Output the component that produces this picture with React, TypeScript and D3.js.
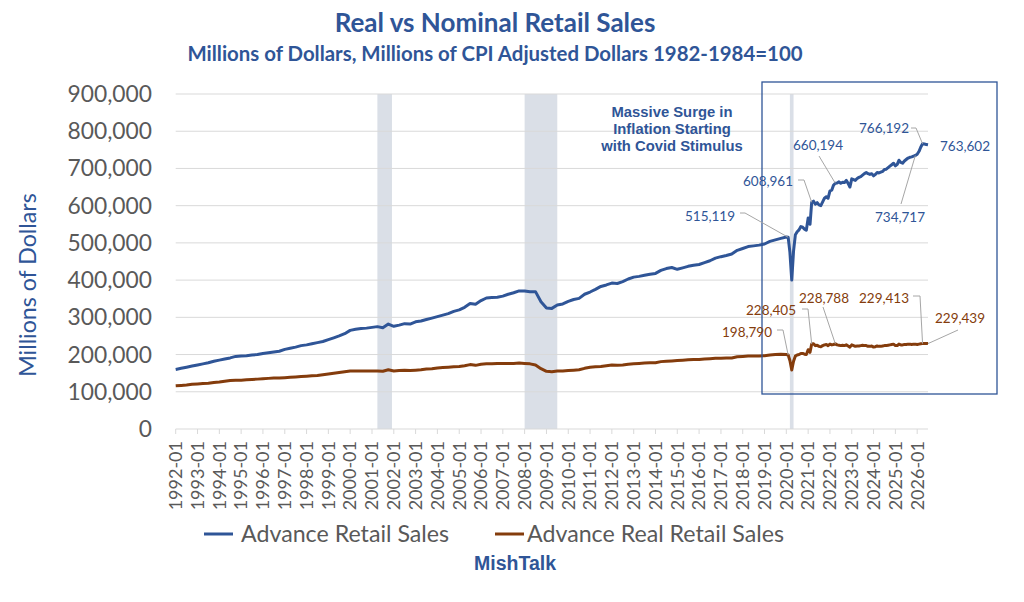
import { useEffect, useRef } from "react"
import * as d3 from "d3"

// quarterly readings (Jan, Apr, Jul, Oct), thousands of millions of dollars
const quarterYears = d3.range(1992, 2020)
const nominalQuarterly = [
  [160, 163, 166, 169], [172, 175, 178, 182], [185, 188, 191, 195], [196, 197, 199, 200],
  [203, 205, 207, 209], [214, 217, 220, 224], [226, 229, 232, 235], [240, 245, 250, 256],
  [265, 268, 270, 271], [273, 275, 272, 282], [276, 279, 283, 282], [288, 290, 294, 298],
  [302, 306, 310, 316], [320, 327, 337, 335], [345, 352, 353, 354], [357, 362, 366, 371],
  [371, 369, 369, 342], [325, 324, 333, 336], [343, 348, 351, 362], [368, 375, 383, 387],
  [392, 391, 396, 403], [408, 410, 413, 416], [418, 426, 431, 434], [429, 433, 437, 440],
  [442, 447, 452, 459], [463, 466, 470, 480], [485, 490, 492, 494], [497, 504, 508, 512],
]
const realQuarterly = [
  [116, 117, 118, 120], [121, 122, 123, 125], [126, 128, 130, 131], [131, 132, 133, 134],
  [135, 136, 137, 137], [138, 139, 140, 141], [142, 143, 144, 146], [148, 150, 152, 154],
  [156, 156, 156, 156], [156, 156, 155, 159], [156, 157, 158, 157], [158, 159, 161, 162],
  [164, 165, 166, 167], [168, 170, 173, 171], [174, 175, 175, 176], [176, 176, 176, 177],
  [176, 175, 172, 162], [155, 154, 156, 156], [157, 158, 159, 163], [166, 167, 168, 170],
  [172, 171, 172, 174], [175, 176, 177, 178], [178, 181, 182, 183], [184, 185, 186, 187],
  [187, 188, 189, 190], [190, 191, 191, 194], [195, 196, 196, 196], [197, 199, 200, 201],
]

// monthly readings from 2020-01
const monthlyStart = "2020-01"
const nominalMonthly = [
  516, 515.1, 475, 400, 478, 522, 530, 535, 544, 542, 537, 534,
  567, 550, 609, 612, 604, 608, 602, 600, 610, 620, 624, 620,
  640, 642, 655, 660.2, 661, 664, 660, 663, 662, 668, 660, 650,
  672, 670, 668, 673, 676, 678, 682, 686, 689, 686, 684, 686,
  680, 684, 689, 688, 690, 692, 697, 698, 702, 706, 710, 714,
  707, 711, 722, 716, 714, 720, 724, 728, 730, 731, 733, 734.7,
  738, 746, 757, 766.2, 765.5, 764.5, 763.6,
]
const realMonthly = [
  200, 198.8, 184, 158.5, 182, 196, 199, 200, 203, 203, 201, 200,
  213, 206, 228.4, 229, 224, 225, 222, 221, 224, 226, 227, 224,
  228, 226, 227, 228.8, 226, 225, 224, 225, 224, 226, 223, 220,
  226, 224, 222, 223, 223, 224, 225, 224, 224, 222, 222, 223,
  220, 221, 223, 222, 222, 223, 224, 224, 225, 226, 227, 228,
  224, 224, 228, 226, 226, 227, 227, 228, 228, 227, 228, 228,
  227, 228, 229, 229.4, 230, 230, 229.4,
]

const yTicks = [0, 100, 200, 300, 400, 500, 600, 700, 800, 900]
const xTickYears = d3.range(1992, 2027)
const recessions = [
  ["2001-04", "2001-12"],
  ["2008-01", "2009-07"],
  ["2020-03", "2020-05"],
]

const nominalLabels = [
  { date: "2020-02", text: "515,119", tx: 710, ty: 216, leader: [[740, 213], [745, 213]] },
  { date: "2021-03", text: "608,961", tx: 768, ty: 181, leader: [[798, 180], [804, 180]] },
  { date: "2022-04", text: "660,194", tx: 818, ty: 145, leader: [[819, 156]] },
  { date: "2026-04", text: "766,192", tx: 884, ty: 128, leader: [[911, 128], [916, 128]] },
  { date: "2026-07", text: "763,602", tx: 965, ty: 146, leader: [] },
  { date: "2025-12", text: "734,717", tx: 900, ty: 217, leader: [[901, 204]] },
]
const realLabels = [
  { date: "2020-02", text: "198,790", tx: 747, ty: 332, leader: [[777, 330], [783, 330]] },
  { date: "2021-03", text: "228,405", tx: 771, ty: 310, leader: [[802, 309], [808, 309]] },
  { date: "2022-04", text: "228,788", tx: 824, ty: 298, leader: [[823, 307]] },
  { date: "2026-04", text: "229,413", tx: 884, ty: 298, leader: [[913, 296], [920, 296]] },
  { date: "2026-07", text: "229,439", tx: 960, ty: 318, leader: [[958, 330]] },
]

const blue = "#2f5597"
const brown = "#843c0c"
const gray = "#595959"
const font = "Lato, 'Open Sans', sans-serif"
const arial = "'Liberation Sans', Arial, sans-serif"

export default function App() {
  const svgRef = useRef<SVGSVGElement>(null)

  useEffect(() => {
    if (!svgRef.current) return
    const parse = d3.timeParse("%Y-%m")

    // build series
    const series: { date: Date; nominal: number; real: number }[] = []
    quarterYears.forEach((yr, i) => {
      ;[0, 3, 6, 9].forEach((mo, q) => {
        series.push({ date: new Date(yr, mo, 1), nominal: nominalQuarterly[i][q], real: realQuarterly[i][q] })
      })
    })
    const start = parse(monthlyStart) as Date
    nominalMonthly.forEach((v, i) => {
      series.push({ date: d3.timeMonth.offset(start, i), nominal: v, real: realMonthly[i] })
    })

    const svg = d3.select(svgRef.current)
    svg.selectAll("*").remove()

    const x = d3
      .scaleTime()
      .domain([parse("1992-01") as Date, parse("2026-07") as Date])
      .range([175.7, 928])
    const y = d3.scaleLinear().domain([0, 900]).range([429, 94])

    // title
    svg
      .append("text")
      .attr("x", 495)
      .attr("y", 32)
      .attr("text-anchor", "middle")
      .style("font-family", font)
      .style("font-weight", "bold")
      .style("font-size", "26px")
      .style("fill", blue)
      .text("Real vs Nominal Retail Sales")
    svg
      .append("text")
      .attr("x", 495)
      .attr("y", 61)
      .attr("text-anchor", "middle")
      .style("font-family", font)
      .style("font-weight", "bold")
      .style("font-size", "20.4px")
      .style("fill", blue)
      .text("Millions of Dollars, Millions of CPI Adjusted Dollars 1982-1984=100")

    // recession bands
    svg
      .selectAll(".band")
      .data(recessions)
      .enter()
      .append("rect")
      .attr("x", (d) => x(parse(d[0]) as Date))
      .attr("width", (d) => x(parse(d[1]) as Date) - x(parse(d[0]) as Date))
      .attr("y", y(900))
      .attr("height", y(0) - y(900))
      .attr("fill", "#dadfe7")

    // gridlines
    svg
      .selectAll(".grid")
      .data(yTicks)
      .enter()
      .append("line")
      .attr("x1", x.range()[0])
      .attr("x2", x.range()[1])
      .attr("y1", (d) => y(d))
      .attr("y2", (d) => y(d))
      .attr("stroke", "#d9d9d9")
      .attr("stroke-width", 1)

    // y tick labels
    svg
      .selectAll(".ylab")
      .data(yTicks)
      .enter()
      .append("text")
      .attr("x", 152)
      .attr("y", (d) => y(d))
      .attr("dy", "0.35em")
      .attr("text-anchor", "end")
      .style("font-family", font)
      .style("font-size", "22.8px")
      .style("fill", gray)
      .text((d) => d3.format(",")(d * 1000))

    // x ticks + labels
    const tickDates = xTickYears.map((yr) => new Date(yr, 0, 1))
    svg
      .selectAll(".xtick")
      .data(tickDates)
      .enter()
      .append("line")
      .attr("x1", (d) => x(d))
      .attr("x2", (d) => x(d))
      .attr("y1", y(0))
      .attr("y2", y(0) + 5)
      .attr("stroke", "#d9d9d9")
    svg
      .selectAll(".xlab")
      .data(tickDates)
      .enter()
      .append("text")
      .attr("transform", (d) => `translate(${x(d)},${y(0) + 12})rotate(-90)`)
      .attr("dy", "0.35em")
      .attr("text-anchor", "end")
      .style("font-family", font)
      .style("font-size", "18px")
      .style("fill", gray)
      .text((d) => d3.timeFormat("%Y-%m")(d))

    // y axis title
    svg
      .append("text")
      .attr("transform", `translate(28,${285})rotate(-90)`)
      .attr("dy", "0.35em")
      .attr("text-anchor", "middle")
      .style("font-family", font)
      .style("font-size", "23.2px")
      .style("fill", blue)
      .text("Millions of Dollars")

    // lines
    const lineNominal = d3
      .line<any>()
      .x((d) => x(d.date))
      .y((d) => y(d.nominal))
    const lineReal = d3
      .line<any>()
      .x((d) => x(d.date))
      .y((d) => y(d.real))

    svg
      .append("path")
      .datum(series)
      .attr("fill", "none")
      .attr("stroke", brown)
      .attr("stroke-width", 3)
      .attr("stroke-linejoin", "round")
      .attr("d", lineReal)
    svg
      .append("path")
      .datum(series)
      .attr("fill", "none")
      .attr("stroke", blue)
      .attr("stroke-width", 3)
      .attr("stroke-linejoin", "round")
      .attr("d", lineNominal)

    // highlight box
    svg
      .append("rect")
      .attr("x", 762)
      .attr("y", 82)
      .attr("width", 235)
      .attr("height", 312)
      .attr("fill", "none")
      .attr("stroke", blue)
      .attr("stroke-width", 1.3)

    // annotation
    const note = ["Massive Surge in", "Inflation Starting", "with Covid Stimulus"]
    svg
      .selectAll(".note")
      .data(note)
      .enter()
      .append("text")
      .attr("x", 672)
      .attr("y", (d, i) => 112 + i * 16.7)
      .attr("dy", "0.35em")
      .attr("text-anchor", "middle")
      .style("font-family", arial)
      .style("font-weight", "bold")
      .style("font-size", "14.8px")
      .style("fill", blue)
      .text((d) => d)

    // data labels
    const findPoint = (date: string) => series.find((s) => +s.date === +(parse(date) as Date))!
    const drawLabels = (labels: any[], key: "nominal" | "real", color: string) => {
      labels.forEach((l) => {
        const p = findPoint(l.date)
        if (l.leader.length) {
          const pts = [...l.leader, [x(p.date), y(p[key])]]
          svg
            .append("path")
            .attr("d", d3.line()(pts as [number, number][]))
            .attr("fill", "none")
            .attr("stroke", "#a6a6a6")
            .attr("stroke-width", 1)
        }
        svg
          .append("text")
          .attr("x", l.tx)
          .attr("y", l.ty)
          .attr("dy", "0.35em")
          .attr("text-anchor", "middle")
          .style("font-family", font)
          .style("font-size", "13.5px")
          .style("fill", color)
          .text(l.text)
      })
    }
    drawLabels(nominalLabels, "nominal", blue)
    drawLabels(realLabels, "real", brown)

    // legend
    const legendItems = [
      { name: "Advance Retail Sales", color: blue, x0: 204, tx: 241 },
      { name: "Advance Real Retail Sales", color: brown, x0: 495, tx: 527 },
    ]
    legendItems.forEach((it) => {
      svg
        .append("line")
        .attr("x1", it.x0)
        .attr("x2", it.x0 + 29)
        .attr("y1", 534)
        .attr("y2", 534)
        .attr("stroke", it.color)
        .attr("stroke-width", 3)
      svg
        .append("text")
        .attr("x", it.tx)
        .attr("y", 534)
        .attr("dy", "0.35em")
        .style("font-family", font)
        .style("font-size", "23.2px")
        .style("fill", gray)
        .text(it.name)
    })

    svg
      .append("text")
      .attr("x", 515)
      .attr("y", 563)
      .attr("dy", "0.35em")
      .attr("text-anchor", "middle")
      .style("font-family", arial)
      .style("font-weight", "bold")
      .style("font-size", "19.5px")
      .style("fill", blue)
      .text("MishTalk")
  }, [])

  return (
    <svg
      ref={svgRef}
      width={1024}
      height={602}
      style={{ position: "absolute", left: 0, top: 0, background: "#fff" }}
    ></svg>
  )
}
